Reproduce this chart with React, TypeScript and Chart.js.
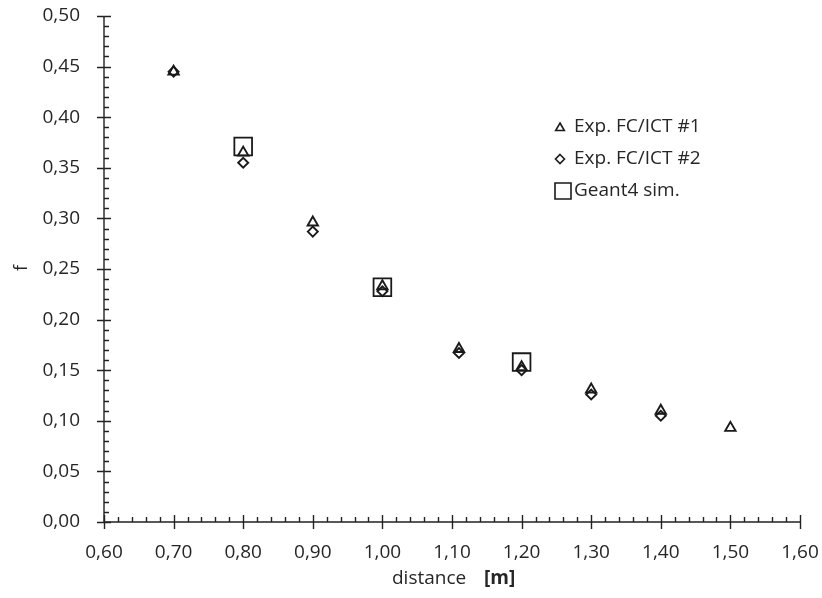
import React, { useEffect, useRef } from 'react';
import { Chart, registerables } from 'chart.js';

Chart.register(...registerables);

const distances1 = [0.70, 0.80, 0.90, 1.00, 1.11, 1.20, 1.30, 1.40, 1.50];
const expFc1 = [0.445, 0.365, 0.296, 0.233, 0.171, 0.153, 0.131, 0.110, 0.093];
const distances2 = [0.70, 0.80, 0.90, 1.00, 1.11, 1.20, 1.30, 1.40];
const expFc2 = [0.445, 0.355, 0.287, 0.228, 0.167, 0.150, 0.126, 0.105];
const simDistances = [0.80, 1.00, 1.20];
const simValues = [0.371, 0.232, 0.158];

const seriesLabels = ['Exp. FC/ICT #1', 'Exp. FC/ICT #2', 'Geant4 sim.'];
const xTitle = 'distance';
const xUnit = '[m]';
const yTitle = 'f';

const X_MIN = 0.6, X_MAX = 1.6, X_STEP = 0.1, X_MINOR = 0.02;
const Y_MIN = 0, Y_MAX = 0.5, Y_STEP = 0.05, Y_MINOR = 0.01;

const FONT = '"Open Sans", "Liberation Sans", sans-serif';
const INK = '#1a1a1a';
const TEXT = '#262626';

const fmt = (v: number) => Number(v).toFixed(2).replace('.', ',');

function drawTriangle(ctx: CanvasRenderingContext2D, x: number, y: number, r: number) {
  ctx.beginPath();
  for (let i = 0; i < 3; i++) {
    const a = -Math.PI / 2 + (i * 2 * Math.PI) / 3;
    const px = x + Math.cos(a) * r;
    const py = y + Math.sin(a) * r;
    if (i === 0) ctx.moveTo(px, py); else ctx.lineTo(px, py);
  }
  ctx.closePath();
  ctx.stroke();
}
function drawDiamond(ctx: CanvasRenderingContext2D, x: number, y: number, r: number) {
  ctx.beginPath();
  ctx.moveTo(x, y - r);
  ctx.lineTo(x + r, y);
  ctx.lineTo(x, y + r);
  ctx.lineTo(x - r, y);
  ctx.closePath();
  ctx.stroke();
}
function drawSquare(ctx: CanvasRenderingContext2D, x: number, y: number, s: number) {
  ctx.beginPath();
  ctx.rect(x - s / 2, y - s / 2, s, s);
  ctx.stroke();
}

const axesPlugin = {
  id: 'excelAxes',
  beforeDatasetsDraw(chart: any) {
    const { ctx, chartArea, scales } = chart;
    const xs = scales.x, ys = scales.y;
    const left = chartArea.left, bottom = chartArea.bottom;
    ctx.save();
    ctx.strokeStyle = '#222';
    ctx.lineWidth = 1.4;
    ctx.beginPath();
    ctx.moveTo(left, chartArea.top);
    ctx.lineTo(left, bottom);
    ctx.lineTo(chartArea.right, bottom);
    ctx.stroke();
    const nx = Math.round((X_MAX - X_MIN) / X_MINOR);
    ctx.beginPath();
    for (let i = 0; i <= nx; i++) {
      const px = Math.round(xs.getPixelForValue(X_MIN + i * X_MINOR)) + 0.5;
      if (i % 5 === 0) {
        ctx.moveTo(px, bottom - 7);
        ctx.lineTo(px, bottom + 7);
      } else {
        ctx.moveTo(px, bottom);
        ctx.lineTo(px, bottom - 5);
      }
    }
    const ny = Math.round((Y_MAX - Y_MIN) / Y_MINOR);
    for (let i = 0; i <= ny; i++) {
      const py = Math.round(ys.getPixelForValue(Y_MIN + i * Y_MINOR)) + 0.5;
      if (i % 5 === 0) {
        ctx.moveTo(left - 7, py);
        ctx.lineTo(left + 7, py);
      } else {
        ctx.moveTo(left, py);
        ctx.lineTo(left + 5, py);
      }
    }
    ctx.stroke();
    ctx.restore();
  },
  afterDraw(chart: any) {
    const { ctx } = chart;
    ctx.save();
    ctx.fillStyle = TEXT;
    ctx.font = `19px ${FONT}`;
    ctx.textBaseline = 'middle';
    ctx.textAlign = 'left';
    ctx.fillText(xTitle, 392, 579);
    ctx.font = `bold 19px ${FONT}`;
    ctx.fillText(xUnit, 484, 579);
    ctx.save();
    ctx.translate(22, 268);
    ctx.rotate(-Math.PI / 2);
    ctx.font = `18px ${FONT}`;
    ctx.textAlign = 'center';
    ctx.fillText(yTitle, 0, 0);
    ctx.restore();
    const lx = 560;
    const rows = [127, 159, 191];
    ctx.strokeStyle = INK;
    ctx.lineWidth = 1.6;
    drawTriangle(ctx, lx, rows[0] + 1, 5);
    drawDiamond(ctx, lx, rows[1], 4.5);
    drawSquare(ctx, lx + 3, rows[2], 16);
    ctx.font = `19px ${FONT}`;
    ctx.textAlign = 'left';
    ctx.fillStyle = TEXT;
    ctx.fillText(seriesLabels[0], 574, rows[0]);
    ctx.fillText(seriesLabels[1], 574, rows[1]);
    ctx.fillText(seriesLabels[2], 574, rows[2]);
    ctx.restore();
  },
};

const zeroPad = (s: any) => {
  s.paddingTop = 0;
  s.paddingBottom = 0;
  s.paddingLeft = 0;
  s.paddingRight = 0;
};

export default function App() {
  const ref = useRef<HTMLCanvasElement | null>(null);
  useEffect(() => {
    if (!ref.current) return;
    const mk = (xs: number[], ys: number[]) => xs.map((x, i) => ({ x, y: ys[i] }));
    const chart = new Chart(ref.current, {
      type: 'scatter',
      data: {
        datasets: [
          {
            label: seriesLabels[2],
            data: mk(simDistances, simValues),
            pointStyle: 'rect',
            pointRadius: 12.5,
            borderColor: INK,
            backgroundColor: 'rgba(0,0,0,0)',
            borderWidth: 1.8,
            order: 3,
          },
          {
            label: seriesLabels[0],
            data: mk(distances1, expFc1),
            pointStyle: 'triangle',
            pointRadius: 6,
            borderColor: INK,
            backgroundColor: 'rgba(0,0,0,0)',
            borderWidth: 1.9,
            order: 1,
          },
          {
            label: seriesLabels[1],
            data: mk(distances2, expFc2),
            pointStyle: 'rectRot',
            pointRadius: 5,
            borderColor: INK,
            backgroundColor: 'rgba(0,0,0,0)',
            borderWidth: 1.9,
            order: 2,
          },
        ],
      },
      options: {
        responsive: false,
        animation: false,
        events: [],
        layout: { padding: { left: 0, top: 16, right: 22, bottom: 0 } },
        plugins: { legend: { display: false }, tooltip: { enabled: false } },
        scales: {
          x: {
            type: 'linear',
            min: X_MIN,
            max: X_MAX,
            grid: { display: false, drawTicks: false },
            border: { display: false },
            ticks: {
              stepSize: X_STEP,
              autoSkip: false,
              padding: 19,
              color: TEXT,
              font: { family: FONT, size: 19 },
              callback: (v: any) => fmt(v),
            },
            afterFit: (s: any) => { s.height = 76; zeroPad(s); },
          },
          y: {
            type: 'linear',
            min: Y_MIN,
            max: Y_MAX,
            grid: { display: false, drawTicks: false },
            border: { display: false },
            ticks: {
              stepSize: Y_STEP,
              autoSkip: false,
              padding: 24,
              color: TEXT,
              font: { family: FONT, size: 19 },
              callback: (v: any) => fmt(v),
            },
            afterFit: (s: any) => { s.width = 104; zeroPad(s); },
          },
        },
      },
      plugins: [axesPlugin],
    });
    return () => chart.destroy();
  }, []);
  return (
    <div style={{ position: 'absolute', left: 0, top: 0, width: 822, height: 598, background: '#fff' }}>
      <canvas ref={ref} width={822} height={598} style={{ display: 'block' }} />
    </div>
  );
}
